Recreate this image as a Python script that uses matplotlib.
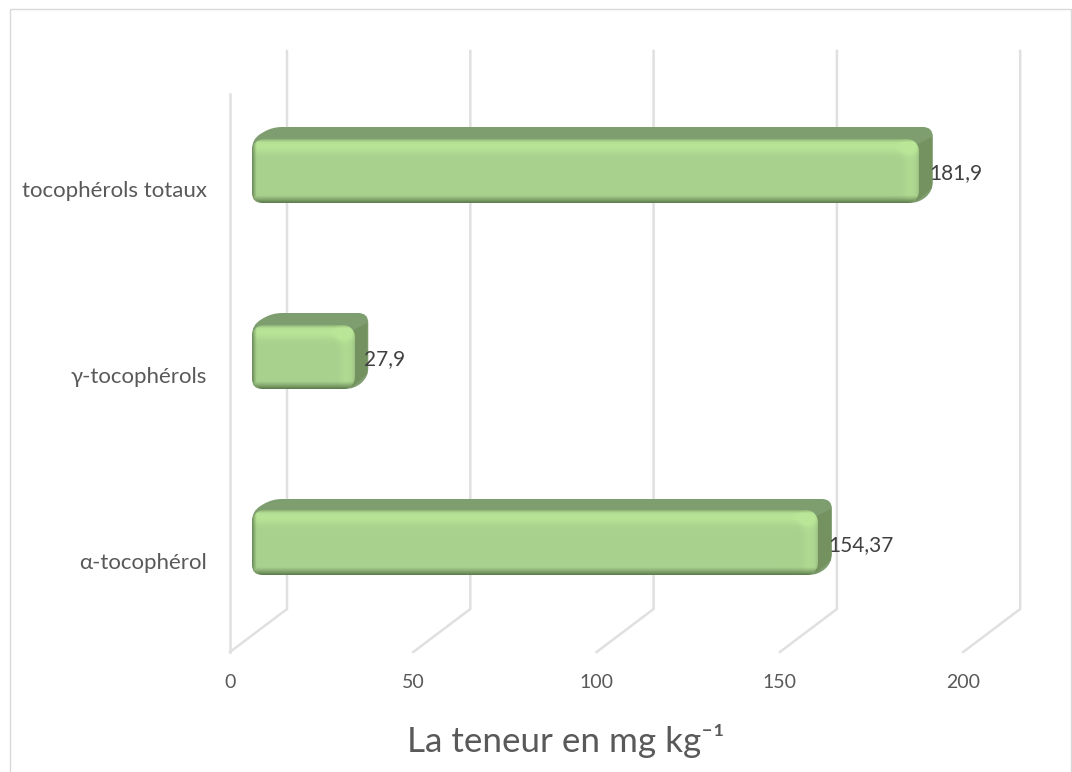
import numpy as np
import matplotlib
matplotlib.use("Agg")
import matplotlib.pyplot as plt
from matplotlib.patches import PathPatch, Rectangle
from matplotlib.path import Path

plt.rcParams['font.family'] = ['Lato', 'DejaVu Sans']

categories = ['α-tocophérol', 'γ-tocophérols', 'tocophérols totaux']
values = [154.37, 27.9, 181.9]
value_labels = ['154,37', '27,9', '181,9']
x_ticks = [0, 50, 100, 150, 200]
x_title = 'La teneur en mg kg⁻¹'

W, H = 1072, 772
X0_PX, Y0_PX = 230, 652     # front floor corner of the plot, in picture pixels
XS = 3.666                  # pixels per unit of value
YS = 186.0                  # pixels per category
GRID = '#e0e0e0'


def hex_rgb(c):
    return np.array(matplotlib.colors.to_rgb(c))


def face_image(w, h, r=12):
    # shading of the front face of a bar, one cell per pixel
    w, h = int(round(w)), int(round(h))
    xx, yy = np.meshgrid(np.arange(w) + 0.5, np.arange(h) + 0.5)
    base = hex_rgb('#a9d18e')
    light = hex_rgb('#b9e697')
    dark = hex_rgb('#5a784a')
    img = np.ones((h, w, 4))
    img[..., :3] = base

    top = np.exp(-((yy - 7) / 7.0) ** 2) * 0.9
    right = np.exp(-((xx - (w - 9)) / 6.0) ** 2) * 0.4
    spot = np.exp(-(((xx - (w - 12)) / 7.0) ** 2 + ((yy - 9) / 7.0) ** 2)) * 0.7
    for k in range(3):
        img[..., k] += (light[k] - base[k]) * np.clip(top + right + spot, 0, 1)

    edge = np.maximum.reduce([
        np.clip(1 - (h - yy) / 8.0, 0, 1) ** 1.2,
        np.clip(1 - xx / 5.0, 0, 1) ** 1.2 * 0.85,
        np.clip(1 - yy / 3.0, 0, 1) * 0.4,
        np.clip(1 - (w - xx) / 3.0, 0, 1) * 0.2,
    ])
    for k in range(3):
        img[..., k] += (dark[k] - img[..., k]) * edge

    # rounded corners
    qx = np.abs(xx - w / 2) - (w / 2 - r)
    qy = np.abs(yy - h / 2) - (h / 2 - r)
    dist = np.hypot(np.maximum(qx, 0), np.maximum(qy, 0)) + np.minimum(np.maximum(qx, qy), 0) - r
    img[..., 3] = np.clip(0.5 - dist, 0, 1)
    return np.clip(img, 0, 1)


def rounded_polygon(points, radius):
    # closed polygon with quadratic corners, points and radius in pixels
    pts = np.array(points, dtype=float)
    verts, codes = [], []
    n = len(pts)
    for i in range(n):
        p, a, b = pts[i], pts[i - 1], pts[(i + 1) % n]
        ua = (a - p) / np.linalg.norm(a - p)
        ub = (b - p) / np.linalg.norm(b - p)
        r = min(radius, np.linalg.norm(a - p) / 2, np.linalg.norm(b - p) / 2)
        verts += [p + ua * r, p, p + ub * r]
        codes += [Path.MOVETO if i == 0 else Path.LINETO, Path.CURVE3, Path.CURVE3]
    verts.append(verts[0])
    codes.append(Path.CLOSEPOLY)
    return np.array(verts), codes


fig = plt.figure(figsize=(W / 100, H / 100), dpi=100)
ax = fig.add_axes([0, 0, 1, 1])
ax.axis('off')
xlim = (-X0_PX / XS, (W - X0_PX) / XS)
ylim = (-0.5 - (H - Y0_PX) / YS, -0.5 + Y0_PX / YS)

# chart area border
fig.add_artist(Rectangle((10 / W, -0.1), (W - 11) / W, 1.1 - 9 / H, transform=fig.transFigure,
                         fill=False, edgecolor='#d9d9d9', linewidth=1))

# walls
back_dx, back_dy = 57 / XS, 43 / YS
for tick in x_ticks:
    ax.plot([tick, tick + back_dx, tick + back_dx], [-0.5, -0.5 + back_dy, 2.5 + back_dy],
            color=GRID, lw=1.8, solid_joinstyle='miter', zorder=1)
    ax.text(tick, -0.5 - 30 / YS, str(tick), ha='center', va='center', fontsize=14, color='#595959')
ax.plot([0, 0], [-0.5, 2.5], color=GRID, lw=1.8, zorder=1)

# bars
for i, (val, lab) in enumerate(zip(values, value_labels)):
    x0 = X0_PX + 22
    x1 = X0_PX + val * XS + 22
    yc = Y0_PX - (i + 0.5) * YS - 16
    y_top, y_bot = yc - 32, yc + 32
    dx, dy = 14, 12

    outline = [(x0, y_bot), (x0, y_top), (x0 + dx + 6, y_top - dy), (x1 + dx, y_top - dy),
               (x1 + dx, y_bot - dy), (x1, y_bot)]
    verts, codes = rounded_polygon(outline, 10)
    verts = np.column_stack([(verts[:, 0] - X0_PX) / XS, (Y0_PX - verts[:, 1]) / YS - 0.5])

    # top face and end face, the end a bit darker
    ax.add_patch(PathPatch(Path(verts, codes), facecolor='#7f9e70', edgecolor='none', zorder=3))
    end = np.array([(x1 - 3, y_top + 6), (x1 + dx - 1, y_top - dy + 10), (x1 + dx - 1, y_bot - dy - 3), (x1 - 3, y_bot - 1)])
    ax.fill((end[:, 0] - X0_PX) / XS, (Y0_PX - end[:, 1]) / YS - 0.5, color='#73925f', lw=0, zorder=3)

    ax.imshow(face_image(x1 - x0, y_bot - y_top), aspect='auto', interpolation='bilinear', zorder=4,
              extent=[(x0 - X0_PX) / XS, (x1 - X0_PX) / XS, (Y0_PX - y_bot) / YS - 0.5, (Y0_PX - y_top) / YS - 0.5])

    ax.text(val + 32 / XS, i + 14 / YS, lab, ha='left', va='center', fontsize=15, color='#404040', zorder=5)
    ax.text(-23 / XS, i - 4 / YS, categories[i], ha='right', va='center', fontsize=16, color='#595959')

ax.text(91.5, -0.5 - 89 / YS, x_title, ha='center', va='center', fontsize=25.2, color='#595959')

ax.set_xlim(xlim)
ax.set_ylim(ylim)
fig.savefig('out.png', dpi=100)
